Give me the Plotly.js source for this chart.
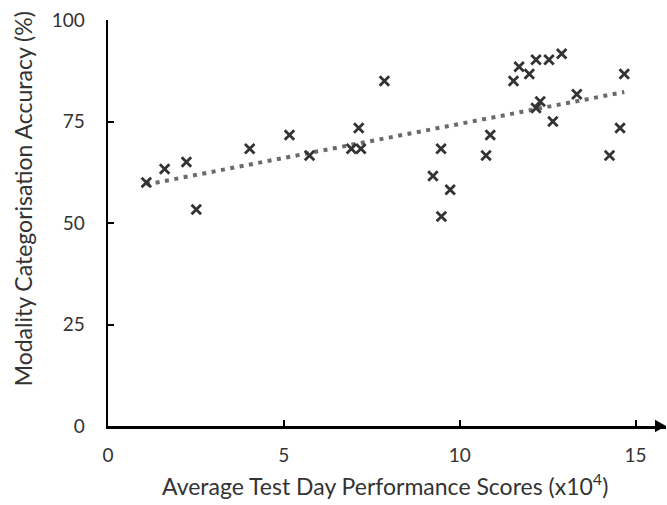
<!DOCTYPE html>
<html><head><meta charset="utf-8">
<script src="https://cdn.plot.ly/plotly-3.0.1.min.js"></script>
<style>html,body{margin:0;padding:0;background:#fff}</style>
</head><body><div id="chart" style="width:667px;height:505px"></div>
<script>
// Average test day performance scores (x10^4)
const scoresX = [1.09,1.61,2.23,2.51,4.03,5.16,5.73,6.92,7.13,7.19,7.86,9.24,9.47,9.48,9.73,10.75,10.87,11.53,11.69,11.98,12.17,12.54,12.90,12.17,12.29,12.65,13.33,14.26,14.56,14.68];
// Modality categorisation accuracy (%)
const accuracyY = [60.0,63.3,65.0,53.3,68.3,71.7,66.6,68.3,73.4,68.3,85.0,61.6,68.3,51.6,58.2,66.6,71.7,85.0,88.5,86.7,90.2,90.2,91.7,78.3,79.9,75.0,81.7,66.6,73.4,86.7];
const xTicks = [0,5,10,15];
const yTicks = [0,25,50,75,100];

// Linear (least squares) trendline over the data range
const n = scoresX.length;
const mx = scoresX.reduce((a,b)=>a+b,0)/n;
const my = accuracyY.reduce((a,b)=>a+b,0)/n;
let sxy = 0, sxx = 0;
for (let i=0;i<n;i++){ sxy += (scoresX[i]-mx)*(accuracyY[i]-my); sxx += (scoresX[i]-mx)**2; }
const slope = sxy/sxx, icpt = my - slope*mx;
const xmin = Math.min(...scoresX), xmax = Math.max(...scoresX);
const trendX = [xmin, xmax];
const trendY = trendX.map(v => icpt + slope*v);

const W = 667, H = 505, L = 107.5, R = 1, T = 20, B = 78.5;
const pw = W - L - R, ph = H - T - B;
const pxPerUnit = 35.2;

const FONT = 'Lato, "Open Sans", sans-serif';
const traces = [
  {x: trendX, y: trendY, mode: 'lines', type: 'scatter', hoverinfo: 'skip',
   line: {color: '#6a6a6a', width: 4, dash: '4px,5.5px'}},
  {x: scoresX, y: accuracyY, mode: 'markers', type: 'scatter',
   marker: {symbol: 'x-thin-open', size: 9.5, color: '#333', line: {color: '#333', width: 2.8}}}
];
const ah = 6.3/ph, ab = 1 - 11/pw;
const layout = {
  width: W, height: H, showlegend: false,
  margin: {l: L, r: R, t: T, b: B, pad: 0},
  paper_bgcolor: '#fff', plot_bgcolor: '#fff',
  font: {family: FONT, color: '#333', size: 19},
  xaxis: {range: [0, pw/pxPerUnit], tickvals: xTicks, ticktext: xTicks.map(String),
    ticks: 'inside', ticklen: 6, tickwidth: 2, tickcolor: '#000',
    showline: true, linecolor: '#000', linewidth: 2.5, showgrid: false, zeroline: false,
    ticklabelstandoff: 11, tickfont: {family: FONT, size: 19, color: '#333'}},
  yaxis: {range: [0, 100], tickvals: yTicks, ticktext: yTicks.map(String),
    ticks: 'inside', ticklen: 6, tickwidth: 2, tickcolor: '#000',
    showline: true, linecolor: '#000', linewidth: 2.5, showgrid: false, zeroline: false,
    ticklabelstandoff: 17, tickfont: {family: FONT, size: 19, color: '#333'}},
  shapes: [
    {type: 'path', xref: 'paper', yref: 'paper',
     path: `M ${ab},${ah} L 1,0 L ${ab},${-ah} Z`, fillcolor: '#000', line: {width: 0}}
  ],
  annotations: [
    {text: 'Modality Categorisation Accuracy (%)', xref: 'paper', yref: 'paper',
     x: (22 - L)/pw, y: (H - B - 199)/ph, textangle: -90, showarrow: false,
     xanchor: 'center', yanchor: 'middle', font: {family: FONT, size: 23, color: '#333'}},
    {text: 'Average Test Day Performance Scores (x10<sup>4</sup>)', xref: 'paper', yref: 'paper',
     x: (385 - L)/pw, y: (H - B - 485)/ph, showarrow: false,
     xanchor: 'center', yanchor: 'middle', font: {family: FONT, size: 23, color: '#333'}}
  ]
};
Plotly.newPlot('chart', traces, layout, {displayModeBar: false, staticPlot: true});
</script></body></html>
